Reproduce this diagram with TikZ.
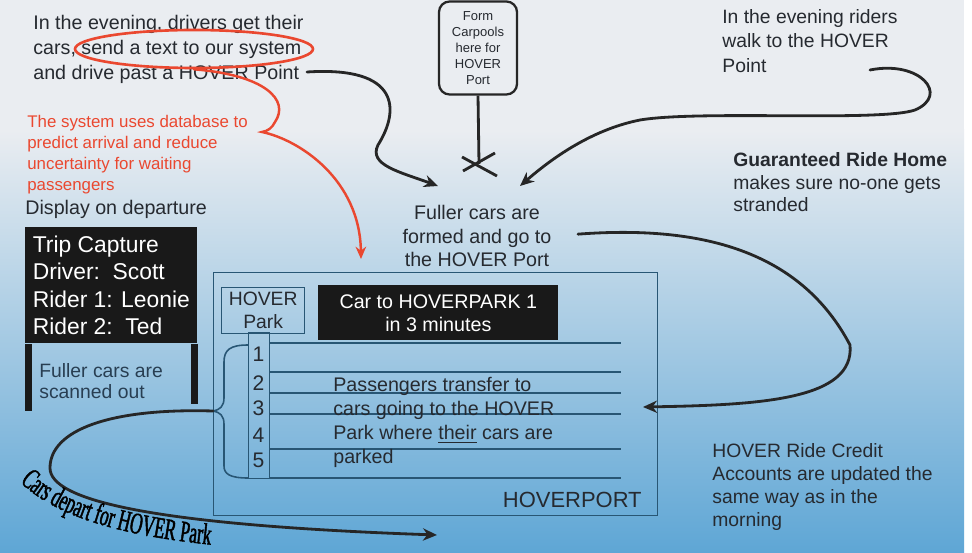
\documentclass[tikz,border=0pt]{standalone}
\usepackage{fontspec}
\setmainfont{Liberation Sans}
\newfontfamily\departfont[FakeStretch=0.58,FakeBold=1.5]{Liberation Serif}
\usetikzlibrary{arrows.meta,shapes.geometric,decorations.text}
\definecolor{bgtop}{RGB}{234,237,241}
\definecolor{bgmid}{RGB}{166,204,229}
\definecolor{bgbot}{RGB}{94,166,213}
\definecolor{ink}{RGB}{38,42,48}
\definecolor{bluink}{RGB}{40,62,82}
\definecolor{portline}{RGB}{40,86,116}
\definecolor{penred}{RGB}{234,72,48}
\newcommand\txtsize{\fontsize{11.2}{14.2}\selectfont}

\begin{document}
\begin{tikzpicture}[x=0.02cm, y=-0.02cm, >={Stealth[length=8pt,width=7pt]},
  note/.style={anchor=north west, inner sep=0pt, align=left, text=ink, font=\txtsize},
  flow/.style={line width=1.6pt, draw=black!85, line cap=round},
  portbox/.style={draw=portline, line width=0.8pt, inner sep=0pt},
  blackbox/.style={fill=black!90, text=white, inner sep=0pt}]
\useasboundingbox (0,0) rectangle (972,553);
% background
\fill[white] (0,0) rectangle (972,553);
\fill[bgtop] (0,0) rectangle (964,130);
\shade[top color=bgtop, middle color=bgmid, bottom color=bgbot] (0,130) rectangle (964,553);

% evening texts
\node[note] (drv) at (33,15) {In the evening, drivers get their\\cars, send a text to our system\\and drive past a HOVER Point};
\node[ellipse, draw=penred, line width=1.5pt, minimum width=4.76cm, minimum height=0.76cm, inner sep=0pt] (sendel) at (194,49) {};
\node[note, text=penred, font=\fontsize{9.6}{12}\selectfont] (sys) at (27,115) {The system uses database to\\predict arrival and reduce\\uncertainty for waiting\\passengers};
\node[note] (disp) at (25,200) {Display on departure};
\node[note, font=\fontsize{11}{13.9}\selectfont] (rid) at (722,9) {In the evening riders\\walk to the HOVER\\Point};
\node[note, font=\fontsize{11}{12.9}\selectfont] (grh) at (733,152) {\textbf{Guaranteed Ride Home}\\makes sure no-one gets\\stranded};
\node[note, font=\fontsize{11}{13.1}\selectfont] (cred) at (712,443) {HOVER Ride Credit\\Accounts are updated the\\same way as in the\\morning};

% carpool sign
\node[draw=black!85, line width=1.3pt, rounded corners=6pt, minimum width=1.56cm, minimum height=1.86cm,
  align=center, text=ink, font=\fontsize{7.4}{9}\selectfont, inner sep=0pt] (sign) at (478,48) {Form\\Carpools\\here for\\HOVER\\Port};
\coordinate (xc) at (479,164);
\draw[line width=1.6pt, black!85] (sign.south) -- (xc);
\draw[line width=1.6pt, black!85] (462,157) -- (497,176) (463,171) -- (495,153);
\node[align=center, text=ink, font=\fontsize{11.2}{13.4}\selectfont, inner sep=0pt, anchor=north] (full) at (477,205) {Fuller cars are\\formed and go to\\the HOVER Port};

% trip capture display
\begin{scope}
\node[blackbox, anchor=north west, minimum width=3.44cm, minimum height=2.32cm,
  align=left, font=\fontsize{13}{15.7}\selectfont] (trip) at (25,227) {Trip Capture\\Driver:\ \ Scott\\Rider 1: Leonie\\Rider 2:\ \ Ted};
\fill[black!90] (trip.south west) rectangle ++(7,67);
\fill[black!90] (trip.south east) rectangle ++(-7,60);
\node[note, text=bluink, font=\fontsize{11}{12}\selectfont] (scan) at (39,363) {Fuller cars are\\scanned out};
\end{scope}

% HOVERPORT board
\begin{scope}
\node[portbox, anchor=north west, minimum width=8.88cm, minimum height=4.86cm] (port) at (213,272) {};
\node[portbox, anchor=north west, minimum width=1.66cm, minimum height=0.92cm, align=center, text=ink,
  font=\fontsize{11}{13}\selectfont] (hpark) at (221,287) {HOVER\\Park};
\node[portbox, anchor=north west, minimum width=0.42cm, minimum height=2.92cm] (col) at (248,332) {};
\foreach \yl in {343,372,393,414,449,478}
  \draw[portline, line width=0.9pt] (269,\yl) -- (621,\yl);
\foreach \n/\yb in {1/361, 2/390, 3/415, 4/442, 5/467}
  \node[anchor=base, text=ink, font=\fontsize{12}{12}\selectfont, inner sep=0pt] (num\n) at (258.5,\yb) {\n};
\node[blackbox, anchor=north west, minimum width=4.8cm, minimum height=1.1cm, align=center,
  font=\fontsize{11.2}{13.2}\selectfont] (carbox) at (318,285) {Car to HOVERPARK 1\\in 3 minutes};
\node[note, font=\fontsize{11.2}{13.7}\selectfont] (pass) at (333,377) {Passengers transfer to\\cars going to the HOVER\\Park where \underline{their} cars are\\parked};
\node[anchor=base east, text=ink, font=\fontsize{12.5}{14}\selectfont, inner sep=0pt] (hvp) at (642,507) {HOVERPORT};
% brace to the lanes
\coordinate (brtip) at (213,411);
\draw[portline, line width=0.9pt] (248,345) .. controls (230,345) and (224,350) .. (224,362) -- (224,398)
  .. controls (224,406) and (220,410) .. (brtip) .. controls (220,412) and (224,416) .. (224,424) -- (224,466)
  .. controls (224,474) and (230,478) .. (248,478);
\end{scope}

% connectors
\coordinate (ptend) at (307,72);
\coordinate (fullL) at (438,186);
\coordinate (ridend) at (870,70);
\coordinate (fullR) at (520,186);
\coordinate (redtip) at (361,259);
\coordinate (boardin) at (643,407);
\coordinate (depend) at (437,535);
\draw[flow, ->] (ptend) .. controls (400,66) and (400,110) .. (378,145) .. controls (368,165) and (400,172) .. (fullL);
\draw[flow, ->] (ridend) .. controls (920,60) and (950,95) .. (915,110) .. controls (880,122) and (700,110) .. (640,120)
  .. controls (590,130) and (550,160) .. (fullR);
\draw[flow, ->, shorten <=15pt] (full.east) .. controls (700,225) and (800,250) .. (850,345) .. controls (855,400) and (760,405) .. (boardin);
\draw[flow, ->] (brtip) .. controls (110,408) and (50,430) .. (50,468) .. controls (50,500) and (150,525) .. (depend);
\draw[penred, line width=1.4pt, line cap=round, ->, >={Stealth[length=7pt,width=6pt]}] (sendel.south) .. controls (265,75) and (290,100) .. (275,122)
  .. controls (272,128) and (268,131) .. (262,132) .. controls (300,140) and (360,180) .. (redtip);
\path[decorate, decoration={text along path, text align=left,
  text={|\departfont\fontsize{17}{17}\selectfont|Cars depart for HOVER Park}}]
  (20,482) .. controls (52,513) and (112,536) .. (225,546);
\end{tikzpicture}
\end{document}
